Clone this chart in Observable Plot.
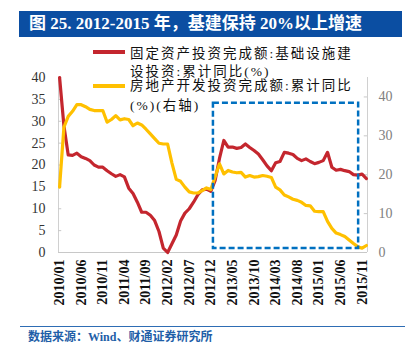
<!DOCTYPE html>
<html><head><meta charset="utf-8">
<script src="https://cdn.jsdelivr.net/npm/d3@7"></script>
<script src="https://cdn.jsdelivr.net/npm/@observablehq/plot@0.6"></script>
<style>
body{margin:0;background:#fff;}
#wrap{position:relative;width:413px;height:357px;overflow:hidden;font-family:"Liberation Serif","Noto Sans CJK SC",serif;}
#title{position:absolute;left:19px;top:11px;width:383px;height:26px;background:#0b4ea2;color:#fff;font-weight:bold;font-size:17px;line-height:26px;padding-left:10px;box-sizing:border-box;white-space:nowrap;}
#chart{position:absolute;left:0;top:40px;}
.lg{position:absolute;left:130px;font-size:13.5px;line-height:18px;letter-spacing:2px;white-space:nowrap;color:#111;}
.sw{position:absolute;left:93px;width:32px;height:4px;}
#srcline{position:absolute;left:20px;top:326px;width:385px;height:0;border-top:1.5px solid #2e6db4;}
#src{position:absolute;left:28px;top:329px;font-size:12px;font-weight:bold;color:#1f5fa8;line-height:16px;white-space:nowrap;}
</style>
</head><body>
<div id="wrap">
  <div id="title">图 25. 2012-2015 年，基建保持 20%以上增速</div>
  <div id="chart"></div>
  <div id="legend"></div>
  <div id="srcline"></div>
  <div id="src">数据来源：Wind、财通证券研究所</div>
</div>
<script>
// Month labels shown on the category axis
const tickLabels = ["2010/01","2010/06","2010/11","2011/04","2011/09","2012/02","2012/07","2012/12","2013/05","2013/10","2014/03","2014/08","2015/01","2015/06","2015/11"];
const startYear = 2010;
// 固定资产投资完成额:基础设施建设投资:累计同比(%) — left axis, monthly from 2010/01
const infra = [40,29,22.3,22.2,22.7,21.9,21.5,21.0,20.0,19.5,19.5,18.7,18.0,17.4,17.8,17.3,14.7,13.5,11.5,9.2,9.2,8.5,7.3,4.8,1.0,0.0,2.0,4.0,7.2,9.0,10.0,11.5,13.2,14.3,14.5,14.0,16.5,21.5,25.6,24.1,24.1,23.8,24.0,24.8,24.0,23.3,22.5,21.2,19.8,18.7,20.5,20.8,22.9,22.7,22.4,21.5,21.0,21.4,20.8,20.3,20.6,21.0,22.9,19.5,18.8,19.0,18.7,18.5,17.8,17.7,17.9,16.9];
// 房地产开发投资完成额:累计同比(%) — right axis
const realEstate = [16.8,32.2,35.0,36.3,38.0,38.0,37.5,36.8,36.5,36.5,36.5,33.5,34.2,35.2,34.1,34.4,34.2,32.6,33.3,32.8,31.7,30.5,29.3,28.1,27.9,27.9,23.0,18.8,18.3,16.8,15.6,15.3,15.3,15.9,16.6,16.2,19.5,22.8,20.2,21.1,20.7,20.5,20.6,19.4,19.8,19.4,19.5,19.8,19.6,19.3,16.8,16.1,14.8,14.3,13.7,13.4,12.9,12.1,12.0,10.6,10.5,10.5,8.0,6.2,5.0,4.6,4.1,3.2,2.3,1.5,1.1,1.8];
const leftTicks = [0,5,10,15,20,25,30,35,40];
const rightTicks = [0,10,20,30,40];
const leftMax = 40, rightMax = 45;
// highlighted period box (month index, left-axis units)
const highlight = [{x1:35.6, x2:69.2, y1:0.9, y2:34.1}];

const k = leftMax / rightMax;
const monthIndex = s => (+s.slice(0,4) - startYear) * 12 + (+s.slice(5) - 1);
const tickIdx = tickLabels.map(monthIndex);
const labelOf = new Map(tickLabels.map(s => [monthIndex(s), s]));
const rows = infra.map((v, i) => ({i, infra: v, re: realEstate[i] * k}));

const chart = Plot.plot({
  width: 413, height: 275,
  marginLeft: 58, marginRight: 46, marginTop: 37, marginBottom: 63,
  style: {fontFamily: "Liberation Serif", background: "transparent", overflow: "visible"},
  x: {type: "linear", domain: [-0.25, 71.25], axis: null},
  y: {domain: [0, leftMax], axis: null},
  marks: [
    Plot.ruleY([0], {stroke: "#c8c8c8"}),
    Plot.ruleX([-0.25], {y1: 0, y2: leftMax, stroke: "#d0d0d0"}),
    Plot.ruleX([71.25], {y1: 0, y2: rightMax * k, stroke: "#d0d0d0"}),
    Plot.ruleY(leftTicks.filter(d => d > 0), {x1: -0.25, x2: 0.5, stroke: "#c8c8c8"}),
    Plot.ruleY(rightTicks.filter(d => d > 0).map(d => d * k), {x1: 70.5, x2: 71.25, stroke: "#c8c8c8"}),
    Plot.axisY({anchor: "left", ticks: leftTicks, tickSize: 0, tickPadding: 13, fontSize: 14, fill: "#333"}),
    Plot.axisY({anchor: "right", ticks: rightTicks.map(d => d * k), tickFormat: d => Math.round(d / k), tickSize: 0, tickPadding: 11, fontSize: 14, fill: "#808080"}),
    Plot.axisX({ticks: tickIdx, tickFormat: d => labelOf.get(Math.round(d)), tickRotate: -90, tickSize: 0, tickPadding: 7, fontSize: 14, fontWeight: "bold", fill: "#111"}),
    Plot.line(rows, {x: "i", y: "infra", stroke: "#c4262e", strokeWidth: 3.2}),
    Plot.line(rows, {x: "i", y: "re", stroke: "#ffc000", strokeWidth: 3.2}),
    Plot.rect(highlight, {x1: "x1", x2: "x2", y1: "y1", y2: "y2", fill: "none", stroke: "#0070c0", strokeWidth: 2.5, strokeDasharray: "6,3"})
  ]
});
document.getElementById("chart").appendChild(chart);

const legend = document.getElementById("legend");
const series = [
  {color: "#c4262e", y: 50, lines: [["固定资产投资完成额:基础设施建", 45], ["设投资:累计同比(%)", 63]]},
  {color: "#ffc000", y: 84, lines: [["房地产开发投资完成额:累计同比", 77], ["(%)(右轴)", 96.5]]}
];
for (const s of series) {
  const sw = document.createElement("div");
  sw.className = "sw"; sw.style.top = s.y + "px"; sw.style.background = s.color;
  legend.appendChild(sw);
  for (const [t, top] of s.lines) {
    const d = document.createElement("div");
    d.className = "lg"; d.style.top = top + "px"; d.textContent = t;
    legend.appendChild(d);
  }
}
</script>
</body></html>
